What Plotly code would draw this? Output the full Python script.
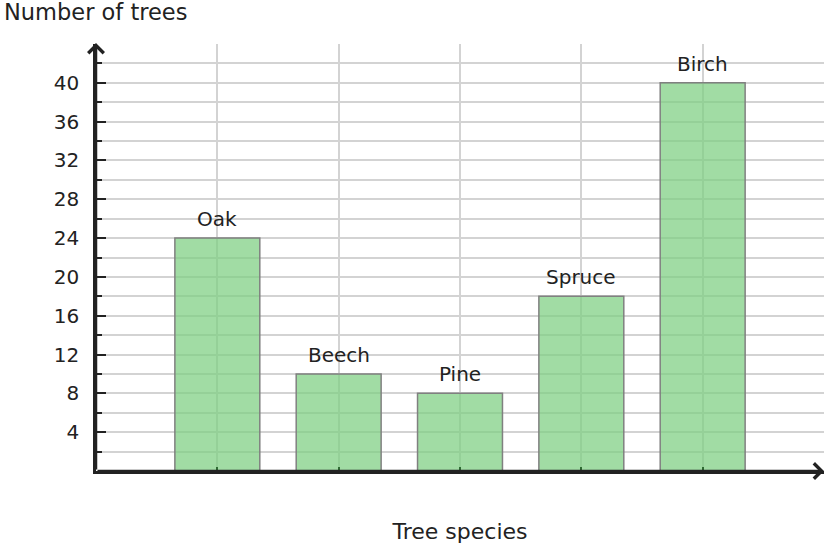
import plotly.graph_objects as go

species = ["Oak", "Beech", "Pine", "Spruce", "Birch"]
counts = [24, 10, 8, 18, 40]
positions = [1, 2, 3, 4, 5]
y_tick_vals = [4, 8, 12, 16, 20, 24, 28, 32, 36, 40]
y_tick_text = [str(v) for v in y_tick_vals]

FONT = "DejaVu Sans"
INK = "#222222"
GRID = "#d3d3d3"

fig = go.Figure()
fig.add_trace(go.Bar(
    x=positions, y=counts, width=0.7,
    marker=dict(color="rgba(126,207,130,0.73)",
                line=dict(color="rgb(128,128,128)", width=1.5)),
    hoverinfo="skip",
))

for xp, c, name in zip(positions, counts, species):
    fig.add_annotation(x=xp, y=c, text=name, showarrow=False, yshift=19,
                       font=dict(family=FONT, size=20, color=INK))

# axis arrows
fig.add_annotation(x=0, y=44.1, ax=0, ay=0, axref="x", ayref="y", xref="x", yref="y",
                   text="", showarrow=True, arrowhead=4, arrowsize=1.2,
                   arrowwidth=2.5, arrowcolor=INK)
fig.add_annotation(x=6.0, y=0, ax=0, ay=0, axref="x", ayref="y", xref="x", yref="y",
                   text="", showarrow=True, arrowhead=4, arrowsize=1.2,
                   arrowwidth=2.5, arrowcolor=INK)

fig.add_annotation(x=0, y=1, xref="paper", yref="paper", xanchor="left", yanchor="bottom",
                   xshift=-94, yshift=17, text="Number of trees", showarrow=False,
                   font=dict(family=FONT, size=22.5, color=INK))

fig.update_layout(
    width=828, height=548,
    margin=dict(l=96, r=4, t=44, b=77),
    plot_bgcolor="white", paper_bgcolor="white",
    showlegend=False,
    font=dict(family=FONT, size=20, color=INK),
    xaxis=dict(
        range=[0, 6], tickvals=[1, 2, 3, 4, 5, 6], showticklabels=False,
        ticks="inside", ticklen=4, tickwidth=2, tickcolor="#2f6b33",
        showgrid=True, gridcolor=GRID, gridwidth=1.5,
        showline=True, linecolor=INK, linewidth=2.5,
        zeroline=False, fixedrange=True,
        title=dict(text="Tree species", font=dict(family=FONT, size=22, color=INK), standoff=51),
    ),
    yaxis=dict(
        range=[0, 44], tickvals=y_tick_vals, ticktext=y_tick_text,
        ticks="inside", ticklen=10, tickwidth=2, tickcolor=INK,
        ticklabelstandoff=10,
        showgrid=True, gridcolor=GRID, gridwidth=1.5,
        minor=dict(dtick=2, tick0=0, ticks="inside", ticklen=6, tickwidth=2, tickcolor=INK,
                   showgrid=True, gridcolor=GRID, gridwidth=1.5),
        showline=True, linecolor=INK, linewidth=2.5,
        zeroline=False, fixedrange=True,
        tickfont=dict(family=FONT, size=20, color=INK),
    ),
)

fig.write_html("out.html")
